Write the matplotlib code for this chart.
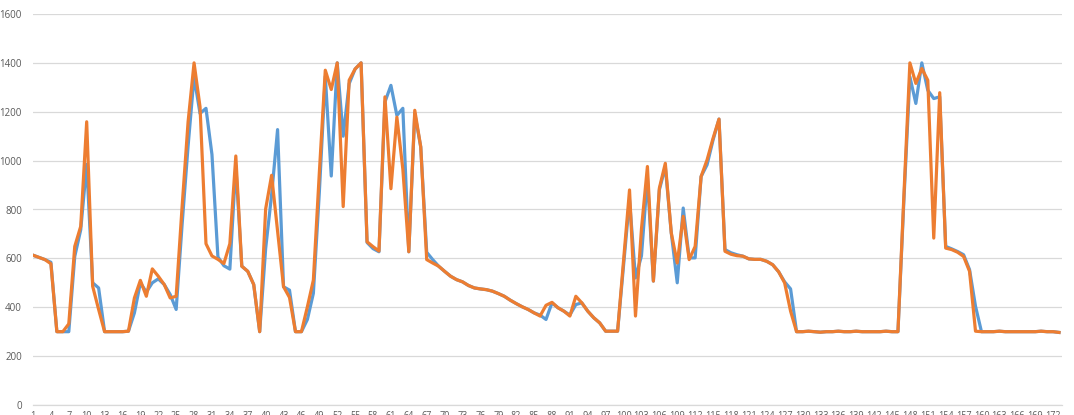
import matplotlib.pyplot as plt

# Datos de las dos series (173 puntos)

serie_azul = [
    613, 604, 595, 584, 300, 300, 300, 608, 717, 985,
    500, 479, 300, 300, 300, 300, 302, 377, 500, 462,
    500, 516, 493, 452, 391, 740, 1060, 1343, 1193, 1214,
    1025, 606, 570, 556, 980, 568, 547, 493, 300, 640,
    860, 1127, 484, 470, 300, 300, 350, 457, 870, 1345,
    937, 1400, 1100, 1315, 1375, 1400, 665, 640, 627, 1240,
    1308, 1185, 1214, 627, 1193, 1056, 625, 595, 568, 547,
    527, 513, 504, 489, 479, 475, 472, 466, 456, 445,
    429, 415, 402, 391, 377, 368, 350, 418, 398, 384,
    368, 411, 418, 384, 357, 336, 302, 302, 302, 570,
    840, 520, 610, 930, 507, 880, 975, 704, 500, 806,
    602, 602, 935, 983, 1084, 1170, 636, 623, 615, 609,
    598, 596, 596, 588, 574, 545, 504, 475, 300, 300,
    302, 300, 298, 300, 300, 302, 300, 300, 302, 300,
    300, 300, 300, 302, 300, 300, 840, 1343, 1234, 1400,
    1288, 1254, 1261, 649, 639, 628, 615, 554, 404, 300,
    300, 300, 302, 300, 300, 300, 300, 300, 300, 302,
    300, 300, 297,
]

serie_naranja = [
    613, 604, 595, 578, 300, 300, 332, 649, 731, 1159,
    486, 391, 300, 300, 300, 300, 302, 438, 510, 445,
    557, 527, 493, 438, 445, 813, 1159, 1400, 1220, 660,
    610, 596, 579, 660, 1019, 568, 547, 493, 300, 802,
    940, 710, 484, 440, 300, 300, 402, 511, 950, 1370,
    1291, 1400, 812, 1329, 1375, 1400, 668, 648, 630, 1261,
    885, 1178, 965, 627, 1206, 1056, 595, 581, 568, 547,
    527, 513, 504, 489, 479, 475, 472, 466, 456, 445,
    429, 415, 402, 391, 377, 364, 408, 420, 398, 384,
    364, 445, 418, 384, 357, 336, 302, 302, 302, 590,
    880, 364, 720, 976, 507, 887, 989, 704, 581, 772,
    595, 649, 935, 1003, 1091, 1170, 629, 617, 611, 609,
    598, 596, 596, 588, 574, 545, 500, 384, 300, 300,
    302, 300, 298, 300, 300, 302, 300, 300, 302, 300,
    300, 300, 300, 302, 300, 300, 860, 1400, 1316, 1377,
    1329, 683, 1278, 642, 636, 625, 608, 547, 302, 300,
    300, 300, 302, 300, 300, 300, 300, 300, 300, 302,
    300, 300, 297,
]

categorias = list(range(1, len(serie_azul) + 1))
etiquetas_x = categorias[::3]

azul = '#5B9BD5'
naranja = '#ED7D31'
gris_grid = '#D9D9D9'
gris_texto = '#595959'

# Figura
fig = plt.figure(figsize=(10.74, 4.15), dpi=100)
ax = fig.add_axes([33 / 1074, 10 / 415, 1029 / 1074, 391 / 415])

x = list(range(len(categorias)))
ax.plot(x, serie_azul, color=azul, linewidth=2.3, solid_joinstyle='round', zorder=3)
ax.plot(x, serie_naranja, color=naranja, linewidth=2.3, solid_joinstyle='round', zorder=4)

# Ejes
ax.set_xlim(0, 172.5)
ax.set_ylim(0, 1600)
ax.set_yticks(range(0, 1601, 200))
ax.set_xticks(x[::3])
ax.set_xticklabels([str(e) for e in etiquetas_x])

ax.grid(axis='y', color=gris_grid, linewidth=0.9)
ax.set_axisbelow(True)
for lado in ['top', 'right', 'left']:
    ax.spines[lado].set_visible(False)
ax.spines['bottom'].set_color(gris_grid)
ax.spines['bottom'].set_linewidth(0.9)

ax.tick_params(axis='both', length=0, colors=gris_texto, labelsize=7)
ax.tick_params(axis='y', pad=8)
ax.tick_params(axis='x', pad=4, labelsize=6.5)
for t in ax.get_xticklabels() + ax.get_yticklabels():
    t.set_fontfamily('Open Sans')

fig.savefig('out.png', dpi=100)
